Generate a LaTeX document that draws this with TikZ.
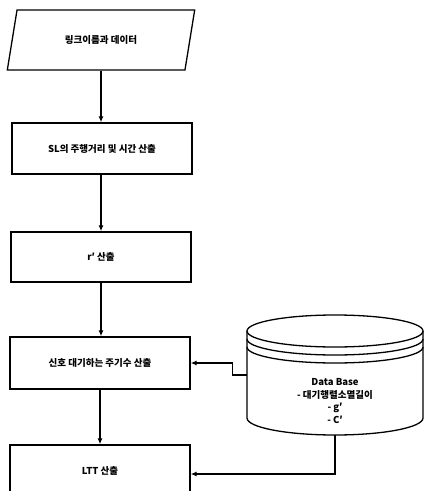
\documentclass[tikz,border=0pt]{standalone}
\usepackage{fontspec}
\newfontfamily\kr{Noto Sans CJK KR}
\usetikzlibrary{shapes.geometric,arrows.meta}
\tikzset{
  every node/.style={font=\kr\bfseries\fontsize{9.5}{12.8}\selectfont},
  procbox/.style={draw, line width=1.3pt, rectangle, inner sep=0pt},
  iobox/.style={draw, line width=1.3pt, trapezium, trapezium left angle=65, trapezium right angle=115, trapezium stretches=true, inner sep=0pt},
  flow/.style={line width=1.3pt, -{Latex[length=6pt,width=5pt]}},
  dbline/.style={line width=1.3pt}
}
\begin{document}
\begin{tikzpicture}[x=1pt,y=-1pt]
\useasboundingbox (0,0) rectangle (425,491);
\clip (0,0) rectangle (425,491);
\node[iobox, minimum width=188pt, minimum height=60pt] (p1) at (101,40) {링크이름과 데이터};
\node[procbox, minimum width=180pt, minimum height=51pt] (b2) at (102,148.5) {SL의 주행거리 및 시간 산출};
\node[procbox, minimum width=180pt, minimum height=50pt] (b3) at (101,257) {r′ 산출};
\node[procbox, minimum width=180pt, minimum height=52pt] (b4) at (100,363) {신호 대기하는 주기수 산출};
\node[procbox, minimum width=180pt, minimum height=55pt] (b5) at (100,472.5) {};
\node (b5t) at (100,471) {LTT 산출};
% database cylinder
\draw[dbline] (335,331) ellipse [x radius=88, y radius=16];
\draw[dbline] (423,339) arc[start angle=0, end angle=180, x radius=88, y radius=16];
\draw[dbline] (423,347) arc[start angle=0, end angle=180, x radius=88, y radius=16];
\draw[dbline] (247,331) -- (247,418) arc[start angle=180, end angle=0, x radius=88, y radius=17] -- (423,331);
\node[minimum width=176pt, minimum height=120pt, inner sep=0pt] (db) at (335,375) {};
\node[align=center] (dbt) at (335,401) {Data Base\\- 대기행렬소멸길이\\- g′\\- C′};
\draw[flow] (p1.south) -- (p1.south |- b2.north);
\draw[flow] ([xshift=-1pt]b2.south) -- ([xshift=-1pt]b2.south |- b3.north);
\draw[flow] (b3.south) -- (b3.south |- b4.north);
\draw[flow] (b4.south) -- (b4.south |- b5.north);
\draw[flow] (db.west) -- ++(-14,0) |- (b4.east);
\draw[flow] (db.south) |- ([yshift=-1.5pt]b5.east);
\end{tikzpicture}
\end{document}
